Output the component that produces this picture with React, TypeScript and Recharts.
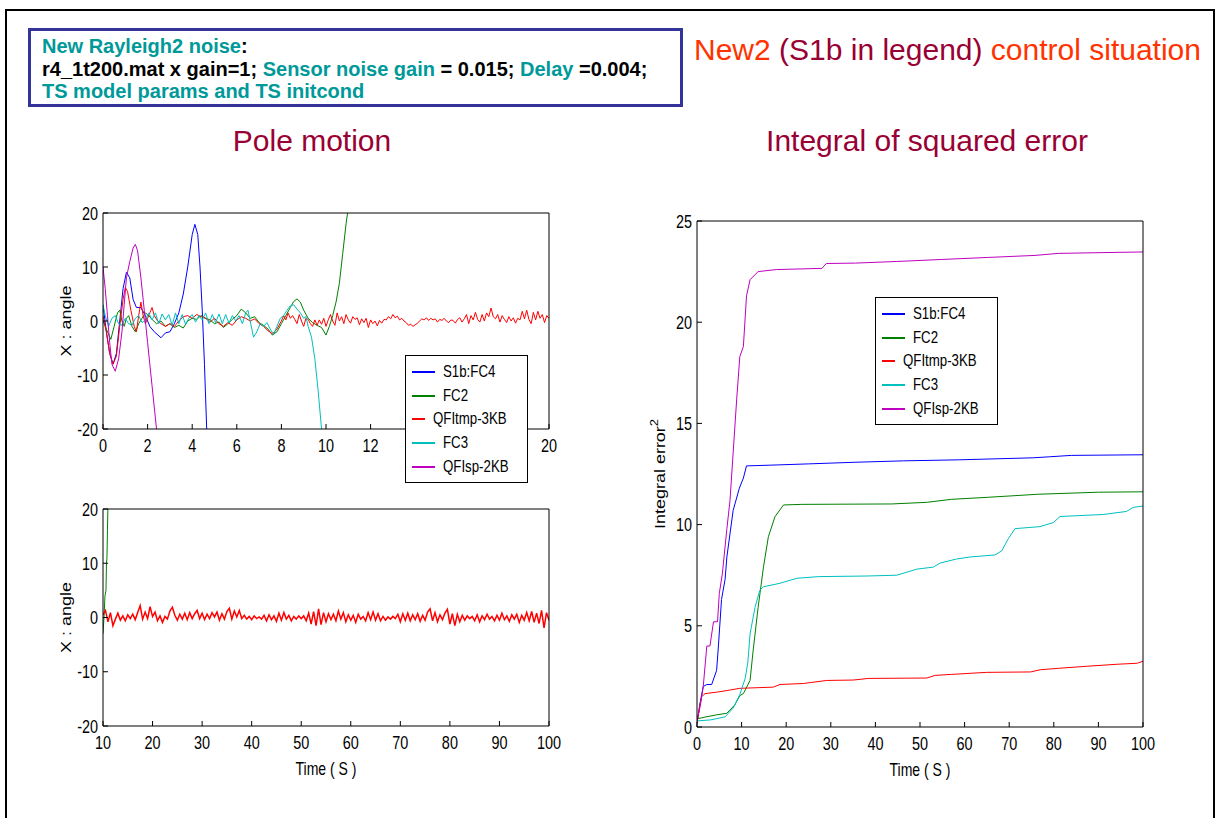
import React from "react";
import { LineChart, Line, XAxis, YAxis, Legend } from "recharts";

type Pt = [number, number];

// ticks
const poleTicks = [0, 2, 4, 6, 8, 10, 12, 14, 16, 18, 20];
const angleTicks = [-20, -10, 0, 10, 20];
const timeTicks = [10, 20, 30, 40, 50, 60, 70, 80, 90, 100];
const errTimeTicks = [0, 10, 20, 30, 40, 50, 60, 70, 80, 90, 100];
const errTicks = [0, 5, 10, 15, 20, 25];

const seriesNames = ["S1b:FC4", "FC2", "QFItmp-3KB", "FC3", "QFIsp-2KB"];
const seriesColors = ["#0000ff", "#008000", "#ff0000", "#00bfbf", "#bf00bf"];

// pole motion, 0..20 s
const poleFC4: Pt[] = [
  [0, 3], [0.15, -2], [0.3, -6], [0.45, -8], [0.6, -6], [0.75, 0], [0.9, 6], [1.05, 9], [1.2, 8],
  [1.35, 4], [1.5, 2.5], [1.7, 2.5], [1.9, 1], [2.1, -1], [2.3, -2], [2.6, -3.1], [2.8, -2.2], [3.0, -2],
  [3.2, -0.5], [3.4, 1.5], [3.6, 5], [3.8, 10], [4.0, 16], [4.12, 17.9], [4.25, 16], [4.35, 10],
  [4.45, 2], [4.55, -8], [4.65, -20], [4.7, -25],
];
const poleFC2: Pt[] = [
  [0, 0], [0.15, -1.5], [0.35, -3.4], [0.5, -1], [0.65, 1.5], [0.75, 2], [0.85, 0], [0.95, -1], [1.05, 0.5],
  [1.15, 1], [1.3, -1], [1.45, -2], [1.6, -0.5], [1.75, 0.5], [1.9, 1.5], [2.05, 1], [2.2, 0.3], [2.4, -0.5],
  [2.6, 0], [2.8, -1], [3.0, -0.5], [3.2, -1.2], [3.4, -0.8], [3.6, -1.3], [3.8, 0], [4.0, 0.5], [4.2, 0.3],
  [4.4, 1], [4.6, 0.5], [4.8, 0.2], [5.0, -0.5], [5.2, -0.2], [5.4, -1.2], [5.6, -0.5], [5.8, 0.3], [6.0, 1],
  [6.2, 2.2], [6.4, 1.5], [6.6, 0.5], [6.8, 0.8], [7.0, -0.3], [7.2, -0.8], [7.4, -1.5], [7.6, -2.6],
  [7.8, -2], [8.0, -0.5], [8.2, 1], [8.4, 2.5], [8.55, 3.6], [8.7, 4.1], [8.85, 3.5], [9.0, 2], [9.2, 0.5],
  [9.4, -0.3], [9.6, -0.8], [9.8, -1.2], [10.0, -2.6], [10.15, -1], [10.3, 1], [10.45, 3.5], [10.6, 7],
  [10.75, 12.5], [10.9, 18], [11.0, 21],
];
const poleTmp: Pt[] = [
  [0, 1], [0.15, -2], [0.3, -6], [0.45, -8], [0.6, -6.5], [0.75, -1], [0.9, 4], [1.0, 6.2], [1.1, 5.5],
  [1.25, 2], [1.4, -1], [1.5, -2], [1.6, 1], [1.7, 3.5], [1.8, 1], [1.9, -0.5], [2.0, 0.5], [2.1, 1.5],
  [2.2, 2.5], [2.3, 1], [2.45, 0], [2.6, -0.5], [2.8, -1], [3.0, -0.5], [3.2, -1], [3.4, 0], [3.6, 0.8],
  [3.8, 1], [4.0, 0.5], [4.2, 1.2], [4.4, 0.8], [4.6, 0.5], [4.8, -0.2], [5.0, 0.5], [5.2, -0.5], [5.4, -1],
  [5.6, -0.3], [5.8, -0.8], [6.0, 0.2], [6.2, 0.8], [6.4, 0.5], [6.6, 0], [6.8, 0.4], [7.0, -0.5], [7.2, -1],
  [7.4, -1.8], [7.6, -2.4], [7.8, -1.5], [8.0, 0], [8.1, 1], [8.2, 0.2], [8.3, 1.5], [8.4, 0.5], [8.5, 1],
  [8.6, 0.3], [8.7, -0.5], [8.8, 1.2], [8.9, 0], [9.0, -1], [9.1, 0.5], [9.2, 0.3], [9.3, -0.5], [9.4, -1],
  [9.5, 0.2], [9.6, -0.8], [9.7, 0.2], [9.8, -0.6], [9.9, 0.5], [10.0, -1], [10.1, 0.2], [10.2, 1.2],
  [10.3, 0], [10.4, -0.8], [10.5, 1.5], [10.6, 0], [10.7, 0.8], [10.8, -0.5], [10.9, 1.2], [11.0, 0.2],
  [11.1, -0.4], [11.2, 0.8], [11.3, 0.3], [11.4, 0.6], [11.5, -0.7], [11.6, 0.4], [11.7, -0.3], [11.8, 0.5],
  [11.9, -1.2], [12.0, 0.2], [12.1, -0.5], [12.2, 0], [12.3, -0.9], [12.4, 0.1], [12.5, -0.4], [12.6, 0.3],
  [12.7, 0.2], [12.8, 0.8], [12.9, 0.4], [13.0, 1.2], [13.1, 0.6], [13.2, 0.9], [13.3, 0.2], [13.4, 0.5],
  [13.5, 0], [13.6, -0.3], [13.7, -0.8], [13.8, -0.6], [13.9, -1], [14.0, -0.7], [14.1, -0.4], [14.2, 0],
  [14.3, 0.4], [14.4, 0.2], [14.5, 0.6], [14.6, 0.1], [14.7, 0.5], [14.8, 0.2], [14.9, 0.4], [15.0, -0.2],
  [15.1, 0.3], [15.2, 0.1], [15.3, 0.5], [15.4, 0], [15.5, -0.3], [15.6, 0.2], [15.7, 0.1], [15.8, -0.4],
  [15.9, 0.3], [16.0, 0.6], [16.1, -0.2], [16.2, 0.4], [16.3, 1.2], [16.4, -0.5], [16.5, 1], [16.6, 0.2],
  [16.7, 1.6], [16.8, 0.3], [16.9, -0.2], [17.0, 1.2], [17.1, 0], [17.2, 1.5], [17.3, 0.8], [17.4, 2.4],
  [17.5, 0.8], [17.6, 0.4], [17.7, 1.2], [17.8, -0.2], [17.9, 1], [18.0, 0.3], [18.1, -0.3], [18.2, 0.8],
  [18.3, 0], [18.4, 0.6], [18.5, -0.4], [18.6, 0.5], [18.7, 0.2], [18.8, 1.8], [18.9, 0.4], [19.0, 2],
  [19.1, 0.3], [19.2, -0.5], [19.3, 1.6], [19.4, 0.2], [19.5, 1.8], [19.6, 0.5], [19.7, 1.2], [19.8, -0.3],
  [19.9, 1], [20, 0.5],
];
const poleFC3: Pt[] = [
  [0, 3], [0.1, 1], [0.25, -1], [0.4, 0.5], [0.55, 1], [0.7, -0.5], [0.85, -0.8], [1.0, 0.5], [1.15, -0.5],
  [1.3, -0.8], [1.45, 0.5], [1.6, 1], [1.75, -0.3], [1.9, 0.2], [2.05, 1.5], [2.2, 0.2], [2.35, 1.5],
  [2.5, -0.5], [2.65, 1.3], [2.8, 0.2], [2.95, 1.2], [3.1, -0.8], [3.25, 1.5], [3.4, -0.5], [3.55, 1.2],
  [3.7, -0.6], [3.85, 0.5], [4.0, 1.2], [4.15, -0.2], [4.3, 1], [4.45, 0.2], [4.6, 1.5], [4.75, -0.5],
  [4.9, 1.2], [5.05, -0.3], [5.2, 1.3], [5.35, -0.5], [5.5, 1.2], [5.65, -0.4], [5.8, 1], [5.95, 0],
  [6.1, 1], [6.25, -0.5], [6.4, 1.5], [6.5, 2], [6.6, 0], [6.75, -3], [6.9, -2], [7.05, -0.5], [7.2, -1],
  [7.35, -0.3], [7.5, -1.5], [7.65, -2.5], [7.8, -1], [7.95, 0.5], [8.1, 1], [8.25, 2], [8.4, 2.8],
  [8.55, 3], [8.7, 2.2], [8.85, 1.5], [9.0, 0.5], [9.1, 0.8], [9.2, -1], [9.35, -3], [9.5, -7],
  [9.65, -13], [9.8, -20], [9.9, -24],
];
const poleSp: Pt[] = [
  [0, 10], [0.1, 6], [0.2, 1], [0.3, -4], [0.4, -8], [0.55, -9.3], [0.7, -7], [0.85, -2], [0.95, 3],
  [1.05, 8], [1.2, 11], [1.35, 13.5], [1.45, 14.2], [1.55, 13], [1.7, 8], [1.85, 2], [2.0, -4], [2.2, -12],
  [2.4, -20], [2.5, -24],
];

// pole motion, 10..100 s
const longFC2: Pt[] = [
  [10, -3], [10.2, 0], [10.4, 4], [10.6, 5], [10.7, 10], [10.8, 11], [10.9, 16], [11.0, 21],
];
const longTmp: Pt[] = [
  [10, 0.5], [10.5, 1.3], [11, -0.8], [11.5, 0.9], [12, -1.5], [12.5, -0.3], [13, 0.8], [13.5, -0.5],
  [14, 0.3], [14.5, -0.6], [15, 0.5], [15.5, -0.2], [16, 0.6], [16.5, -0.4], [17, 0.9], [17.5, 2.2],
  [18, -0.3], [18.5, 1.0], [19, -0.2], [19.5, 2.0], [20, 0.2], [20.5, 1.0], [21, -0.6], [21.5, 0.3],
  [22, -0.9], [22.5, 0.2], [23, -0.3], [23.5, 1.2], [24, 1.9], [24.5, 0.4], [25, -0.5], [25.5, 0.6],
  [26, -0.3], [26.5, 0.8], [27, -0.4], [27.5, 0.9], [28, -0.2], [28.5, 0.7], [29, 1.3], [29.5, -0.2],
  [30, 0.8], [30.5, -0.4], [31, 0.6], [31.5, -0.2], [32, 0.9], [32.5, 0.1], [33, 1.0], [33.5, -0.5],
  [34, 0.7], [34.5, -0.3], [35, 1.1], [35.5, 1.7], [36, -0.3], [36.5, 1.2], [37, 0.1], [37.5, 1.3],
  [38, -0.2], [38.5, 0.4], [39, -0.3], [39.5, 0.2], [40, -0.4], [40.5, 0.3], [41, -0.2], [41.5, 0.1],
  [42, -0.3], [42.5, 0.4], [43, -0.6], [43.5, 0.5], [44, -0.4], [44.5, 0.3], [45, -0.7], [45.5, 0.8],
  [46, -0.5], [46.5, 0.9], [47, -0.3], [47.5, 0.4], [48, -0.6], [48.5, 0.2], [49, -0.3], [49.5, 0.3],
  [50, -0.2], [50.5, 0.3], [51, -0.6], [51.5, 0.8], [52, -1.2], [52.5, 1.1], [53, -1.5], [53.5, 1.6],
  [54, -1.3], [54.5, 0.9], [55, -0.8], [55.5, 0.7], [56, -0.4], [56.5, 0.6], [57, -0.6], [57.5, 1.2],
  [58, -0.3], [58.5, 0.9], [59, -0.8], [59.5, 0.5], [60, -0.5], [60.5, 0.4], [61, -0.9], [61.5, 0.6],
  [62, -0.3], [62.5, 0.2], [63, -0.6], [63.5, 0.9], [64, -0.4], [64.5, 1.0], [65, -0.5], [65.5, 0.7],
  [66, -0.6], [66.5, 0.2], [67, -0.5], [67.5, 0.1], [68, -0.3], [68.5, 0.2], [69, -0.2], [69.5, 0.6],
  [70, -0.8], [70.5, 0.7], [71, -0.5], [71.5, 0.8], [72, -0.6], [72.5, 0.5], [73, -0.4], [73.5, 0.7],
  [74, -0.7], [74.5, 0.4], [75, -0.5], [75.5, 1.0], [76, 1.6], [76.5, -0.6], [77, 0.9], [77.5, -0.8],
  [78, 0.5], [78.5, -0.4], [79, 0.8], [79.5, 1.5], [80, -1.2], [80.5, 0.7], [81, -1.5], [81.5, 0.6],
  [82, -0.8], [82.5, 0.4], [83, -0.5], [83.5, 0.3], [84, -0.2], [84.5, 0.2], [85, -0.6], [85.5, 0.5],
  [86, -0.8], [86.5, 0.3], [87, -0.4], [87.5, 0.6], [88, -0.3], [88.5, 0.2], [89, -0.6], [89.5, 0.4],
  [90, -0.5], [90.5, 0.8], [91, -0.4], [91.5, 0.3], [92, -0.7], [92.5, 0.5], [93, -0.3], [93.5, 0.6],
  [94, -0.9], [94.5, 0.4], [95, -0.5], [95.5, 0.9], [96, -0.6], [96.5, 1.1], [97, -0.9], [97.5, 0.8],
  [98, -1.1], [98.5, 1.3], [99, -1.9], [99.5, 0.9], [100, -0.5],
];

// integral of squared error, 0..100 s
const errFC4: Pt[] = [
  [0, 0.2], [0.7, 1.2], [1.4, 2.0], [2.2, 2.1], [3.3, 2.1], [4.4, 2.8], [4.8, 4.0], [5.5, 6.3], [6.3, 7.3],
  [6.7, 8.4], [8.1, 10.7], [9.5, 11.8], [10.4, 12.3], [11.1, 12.9], [18.2, 12.95], [25, 13.0], [35.4, 13.08],
  [46.3, 13.15], [58.6, 13.2], [75.4, 13.3], [79, 13.35], [84, 13.42], [100, 13.45],
];
const errFC2: Pt[] = [
  [0, 0.4], [2, 0.5], [4.4, 0.6], [6.7, 0.68], [8.5, 1.1], [9.6, 1.55], [10.4, 1.65], [11.9, 2.3],
  [12.6, 3.8], [13.7, 5.9], [14.9, 7.9], [16, 9.4], [17.5, 10.4], [19.4, 10.97], [23.5, 11.0],
  [43.6, 11.02], [51.5, 11.1], [57.1, 11.25], [65.3, 11.35], [76.5, 11.5], [90, 11.6], [100, 11.62],
];
const errTmp: Pt[] = [
  [0, 0.2], [0.5, 0.9], [1.05, 1.5], [1.8, 1.65], [4.4, 1.72], [6.7, 1.8], [9.6, 1.91], [17.1, 1.97],
  [18.6, 2.1], [23.9, 2.15], [29.1, 2.3], [35.1, 2.32], [38.4, 2.4], [51.5, 2.42], [53.4, 2.55],
  [57.1, 2.6], [65, 2.7], [74.8, 2.72], [77, 2.83], [81.1, 2.9], [87.4, 3.0], [94.2, 3.1], [98.7, 3.15],
  [100, 3.25],
];
const errFC3: Pt[] = [
  [0, 0.3], [3, 0.35], [6.3, 0.5], [8.1, 0.93], [9.6, 1.6], [10.8, 2.4], [11.4, 3.2], [11.9, 4.6],
  [13, 5.9], [14.1, 6.77], [14.9, 6.93], [18.6, 7.1], [22.4, 7.35], [27.3, 7.43], [38.1, 7.46],
  [44.8, 7.5], [49.3, 7.8], [53, 7.9], [54.5, 8.1], [58.2, 8.3], [61.2, 8.4], [66.8, 8.5], [68.3, 8.7],
  [69.8, 9.3], [71.3, 9.8], [76.9, 9.9], [79.9, 10.1], [81.4, 10.4], [91.1, 10.5], [96.3, 10.65],
  [97.8, 10.85], [100, 10.92],
];
const errSp: Pt[] = [
  [0, 0.3], [0.7, 1.0], [1.4, 2.0], [2.2, 4.0], [2.9, 4.0], [3.7, 5.2], [4.6, 5.2], [5.0, 6.6], [5.7, 7.6],
  [6.7, 9.8], [7.4, 11.2], [8.9, 16.2], [9.6, 18.3], [10.4, 18.8], [11.1, 21.3], [11.9, 22.1],
  [13.7, 22.5], [17.8, 22.6], [28, 22.66], [29, 22.9], [35.5, 22.92], [44.8, 23.0], [54.9, 23.1],
  [65.3, 23.2], [75.8, 23.3], [81, 23.4], [94.4, 23.45], [100, 23.47],
];

const pts = (a: Pt[]) => a.map(([t, v]) => ({ t, v }));

const SANS = '"Liberation Sans", Arial, sans-serif';
const MAROON = "#990033";
const SQUEEZE = 0.78; // the figure is squeezed sideways

function XTick(props: any) {
  const { x, y, payload } = props;
  return (
    <text transform={`translate(${x},${y}) scale(${SQUEEZE},1)`} dy={14} textAnchor="middle" fontSize={18.5} fontFamily={SANS} fill="#000">
      {payload.value}
    </text>
  );
}

function YTick(props: any) {
  const { x, y, payload } = props;
  return (
    <text transform={`translate(${x},${y}) scale(${SQUEEZE},1)`} dy={6.5} textAnchor="end" fontSize={18.5} fontFamily={SANS} fill="#000">
      {payload.value}
    </text>
  );
}

const yTitle = (text: string, sup?: string) => (props: any) => {
  const { x, y, height } = props.viewBox;
  return (
    <text
      transform={`translate(${x + 13},${y + height / 2}) scale(${SQUEEZE},1) rotate(-90)`}
      textAnchor="middle"
      dominantBaseline="central"
      fontSize={18}
      fontFamily={SANS}
      fill="#000"
    >
      {text}
      {sup && (
        <tspan dy={-8} fontSize={13}>
          {sup}
        </tspan>
      )}
    </text>
  );
};

const xTitle = (text: string) => (props: any) => {
  const { x, y, width } = props.viewBox;
  return (
    <text
      transform={`translate(${x + width / 2},${y + 49}) scale(${SQUEEZE},1)`}
      textAnchor="middle"
      fontSize={18}
      fontFamily={SANS}
      fill="#000"
    >
      {text}
    </text>
  );
};

function LegendBox(props: any) {
  const items = [...(props.payload || [])].sort(
    (a: any, b: any) => seriesNames.indexOf(a.value) - seriesNames.indexOf(b.value)
  );
  return (
    <div
      style={{
        width: 123,
        height: 128,
        boxSizing: "border-box",
        border: "1px solid #000",
        background: "#fff",
        paddingTop: 4,
        fontFamily: SANS,
        fontSize: 17,
        color: "#000",
      }}
    >
      {items.map((p: any) => (
        <div key={p.value} style={{ height: 23.75, display: "flex", alignItems: "center", whiteSpace: "nowrap" }}>
          <span style={{ display: "inline-block", width: 23, marginLeft: 6, marginRight: 8, borderTop: `2px solid ${p.color}` }} />
          <span style={{ display: "inline-block", transform: `scaleX(${SQUEEZE})`, transformOrigin: "left center" }}>{p.value}</span>
        </div>
      ))}
    </div>
  );
}

function Panel(props: {
  left: number;
  top: number;
  plotW: number;
  plotH: number;
  xDomain: [number, number];
  xTicks: number[];
  yDomain: [number, number];
  yTicks: number[];
  yLabel: string;
  ySup?: string;
  xLabel?: string;
  legendAt?: [number, number];
  children: React.ReactNode;
}) {
  const xh = props.xLabel ? 60 : 30;
  const width = 50 + props.plotW + 24;
  const height = 10 + props.plotH + xh;
  return (
    <div style={{ position: "absolute", left: props.left, top: props.top }}>
      <LineChart width={width} height={height} margin={{ top: 0, right: 0, bottom: 0, left: 0 }}>
        <XAxis
          xAxisId="x"
          type="number"
          dataKey="t"
          domain={props.xDomain}
          ticks={props.xTicks}
          interval={0}
          allowDataOverflow
          height={xh}
          tickSize={-5}
          tickMargin={14}
          stroke="#000"
          tick={<XTick />}
          label={props.xLabel ? { content: xTitle(props.xLabel) } : undefined}
        />
        <XAxis
          xAxisId="xt"
          orientation="top"
          type="number"
          dataKey="t"
          domain={props.xDomain}
          ticks={props.xTicks}
          interval={0}
          allowDataOverflow
          height={10}
          tickSize={-5}
          stroke="#000"
          tick={false}
        />
        <YAxis
          yAxisId="y"
          type="number"
          domain={props.yDomain}
          ticks={props.yTicks}
          interval={0}
          allowDataOverflow
          width={50}
          tickSize={-5}
          tickMargin={10}
          stroke="#000"
          tick={<YTick />}
          label={{ content: yTitle(props.yLabel, props.ySup) }}
        />
        <YAxis
          yAxisId="yr"
          orientation="right"
          type="number"
          domain={props.yDomain}
          ticks={props.yTicks}
          interval={0}
          allowDataOverflow
          width={24}
          tickSize={-5}
          stroke="#000"
          tick={false}
        />
        {props.legendAt && (
          <Legend
            layout="vertical"
            align="center"
            verticalAlign="middle"
            wrapperStyle={{ left: props.legendAt[0], top: props.legendAt[1], width: "auto", height: "auto" }}
            content={<LegendBox />}
          />
        )}
        {props.children}
      </LineChart>
    </div>
  );
}

function series(data: Pt[], i: number, w = 1) {
  return (
    <Line
      key={seriesNames[i]}
      xAxisId="x"
      yAxisId="y"
      data={pts(data)}
      dataKey="v"
      name={seriesNames[i]}
      stroke={seriesColors[i]}
      strokeWidth={w}
      dot={false}
      activeDot={false}
      isAnimationActive={false}
    />
  );
}

export default function App() {
  return (
    <div style={{ position: "absolute", left: 0, top: 0, width: 1219, height: 818, background: "#fff", overflow: "hidden" }}>
      <div
        style={{
          position: "absolute",
          left: 5,
          top: 9,
          width: 1206,
          height: 830,
          borderLeft: "2px solid #000",
          borderTop: "2px solid #000",
          borderRight: "2px solid #000",
        }}
      />
      <div
        style={{
          position: "absolute",
          left: 28,
          top: 28,
          width: 655,
          height: 79,
          boxSizing: "border-box",
          border: "3px solid #33339a",
          padding: "4px 0 0 11px",
          fontFamily: SANS,
          fontWeight: "bold",
          fontSize: 20,
          lineHeight: "22.5px",
          color: "#000",
          whiteSpace: "nowrap",
        }}
      >
        <div>
          <span style={{ color: "#009999" }}>New Rayleigh2 noise</span>:
        </div>
        <div>
          r4_1t200.mat x gain=1; <span style={{ color: "#009999" }}>Sensor noise gain</span> = 0.015;{" "}
          <span style={{ color: "#009999" }}>Delay</span> =0.004;
        </div>
        <div style={{ color: "#009999" }}>TS model params and TS initcond</div>
      </div>
      <div style={{ position: "absolute", left: 694, top: 33, fontFamily: SANS, fontSize: 30, whiteSpace: "nowrap", color: "#ff3300" }}>
        New2 <span style={{ color: MAROON }}>(S1b in legend)</span> control situation
      </div>
      <div style={{ position: "absolute", left: 112, width: 400, top: 124, textAlign: "center", fontFamily: SANS, fontSize: 30, color: MAROON }}>
        Pole motion
      </div>
      <div style={{ position: "absolute", left: 727, width: 400, top: 124, textAlign: "center", fontFamily: SANS, fontSize: 30, color: MAROON }}>
        Integral of squared error
      </div>

      <Panel left={53} top={203} plotW={446} plotH={216} xDomain={[0, 20]} xTicks={poleTicks} yDomain={[-20, 20]} yTicks={angleTicks} yLabel="X : angle" legendAt={[352, 152]}>
        {series(poleFC4, 0)}
        {series(poleFC2, 1)}
        {series(poleTmp, 2)}
        {series(poleFC3, 3)}
        {series(poleSp, 4)}
      </Panel>

      <Panel left={53} top={499} plotW={446} plotH={217} xDomain={[10, 100]} xTicks={timeTicks} yDomain={[-20, 20]} yTicks={angleTicks} yLabel="X : angle" xLabel="Time ( S )">
        {series(longFC2, 1)}
        {series(longTmp, 2, 1.5)}
      </Panel>

      <Panel left={647} top={211} plotW={446} plotH={506} xDomain={[0, 100]} xTicks={errTimeTicks} yDomain={[0, 25]} yTicks={errTicks} yLabel="Integral error" ySup="2" xLabel="Time ( S )" legendAt={[228, 86]}>
        {series(errFC4, 0)}
        {series(errFC2, 1)}
        {series(errTmp, 2)}
        {series(errFC3, 3)}
        {series(errSp, 4)}
      </Panel>
    </div>
  );
}
